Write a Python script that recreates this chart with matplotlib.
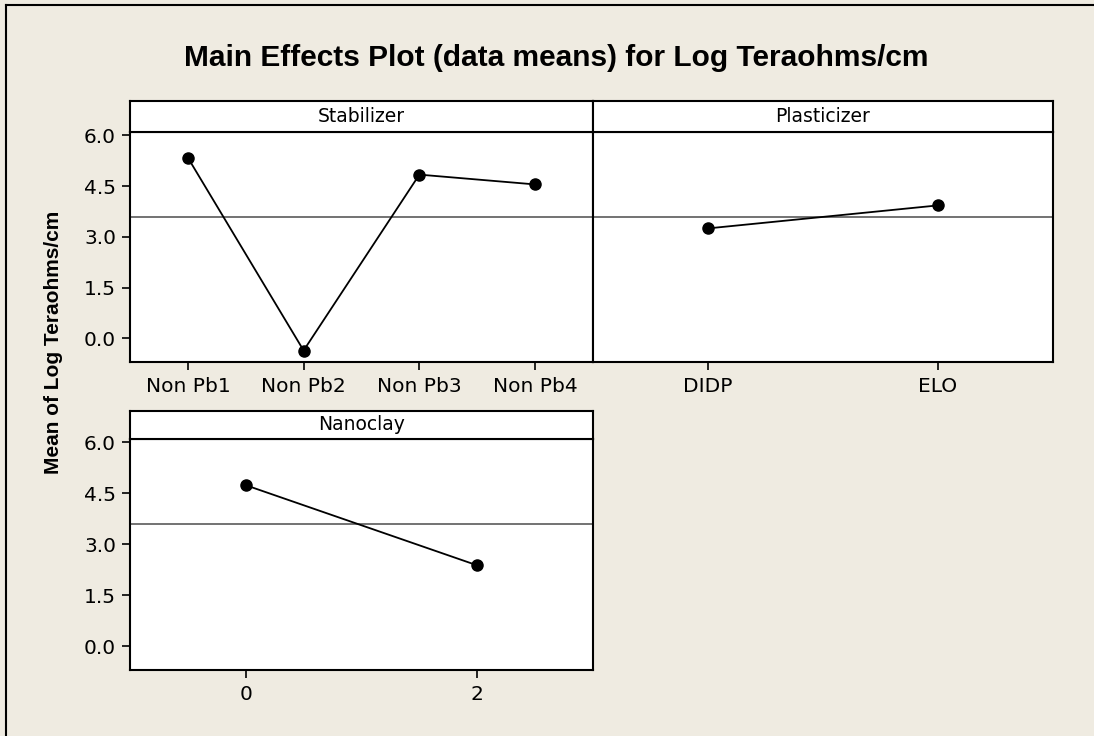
import matplotlib
matplotlib.use("Agg")
import matplotlib.pyplot as plt
from matplotlib.lines import Line2D

# ---- data ----
stab_levels = ["Non Pb1", "Non Pb2", "Non Pb3", "Non Pb4"]
stab_means = [5.34, -0.36, 4.84, 4.55]
plast_levels = ["DIDP", "ELO"]
plast_means = [3.25, 3.93]
nano_levels = ["0", "2"]
nano_means = [4.74, 2.38]
grand_mean = 3.60
y_ticks = [0.0, 1.5, 3.0, 4.5, 6.0]

W, H = 1094, 736
BG = "#EFEBE1"
fig = plt.figure(figsize=(W / 100, H / 100), dpi=100, facecolor=BG)

def fx(px):
    return px / W

def fy(py):
    return 1 - py / H

tick_font = dict(family="DejaVu Sans", size=14.5)
strip_font = dict(family="DejaVu Sans", size=13.5)

def panel(x0, x1, ytop_strip, ybot_strip, ybot, levels, means, show_y):
    ax = fig.add_axes([fx(x0), fy(ybot), fx(x1) - fx(x0), fy(ybot_strip) - fy(ybot)])
    sax = fig.add_axes([fx(x0), fy(ybot_strip), fx(x1) - fx(x0), fy(ytop_strip) - fy(ybot_strip)])
    xs = list(range(len(levels)))
    ax.axhline(grand_mean, color="#5a5a5a", lw=1.2, zorder=1)
    ax.plot(xs, means, color="black", lw=1.3, marker="o", ms=8, zorder=3)
    ax.set_xlim(-0.5, len(levels) - 0.5)
    ax.set_ylim(-0.7, 6.1)
    ax.set_xticks(xs)
    ax.set_xticklabels(levels, **tick_font)
    ax.set_facecolor("white")
    for sp in ax.spines.values():
        sp.set_linewidth(1.5)
        sp.set_color("black")
    ax.tick_params(axis="x", direction="out", length=6, width=1.2, pad=5, colors="black")
    if show_y:
        ax.set_yticks(y_ticks)
        ax.set_yticklabels([f"{v:.1f}" for v in y_ticks], **tick_font)
        ax.tick_params(axis="y", direction="out", length=6, width=1.2, pad=4)
    else:
        ax.set_yticks([])
    sax.set_xticks([])
    sax.set_yticks([])
    sax.set_facecolor("white")
    for sp in sax.spines.values():
        sp.set_linewidth(1.5)
        sp.set_color("black")
    return ax, sax

ax1, s1 = panel(130, 593, 101, 132, 362, stab_levels, stab_means, True)
s1.text(0.5, 0.5, "Stabilizer", ha="center", va="center", transform=s1.transAxes, **strip_font)
ax2, s2 = panel(593, 1053, 101, 132, 362, plast_levels, plast_means, False)
s2.text(0.5, 0.5, "Plasticizer", ha="center", va="center", transform=s2.transAxes, **strip_font)
ax3, s3 = panel(130, 593, 410.7, 439, 670, nano_levels, nano_means, True)
s3.text(0.5, 0.5, "Nanoclay", ha="center", va="center", transform=s3.transAxes, **strip_font)

fig.text(fx(556), fy(58), "Main Effects Plot (data means) for Log Teraohms/cm",
         ha="center", va="center", family="Liberation Sans", weight="bold", size=21.5)
fig.text(fx(54), fy(342), "Mean of Log Teraohms/cm", rotation=90,
         ha="center", va="center", family="Liberation Sans", weight="bold", size=15)

# outer frame: left and top edges
fig.lines.append(Line2D([fx(6), fx(6)], [0, fy(5)], transform=fig.transFigure, color="black", lw=1.5))
fig.lines.append(Line2D([fx(6), 1], [fy(5), fy(5)], transform=fig.transFigure, color="black", lw=1.5))

fig.savefig("out.png", dpi=100, facecolor=BG)
